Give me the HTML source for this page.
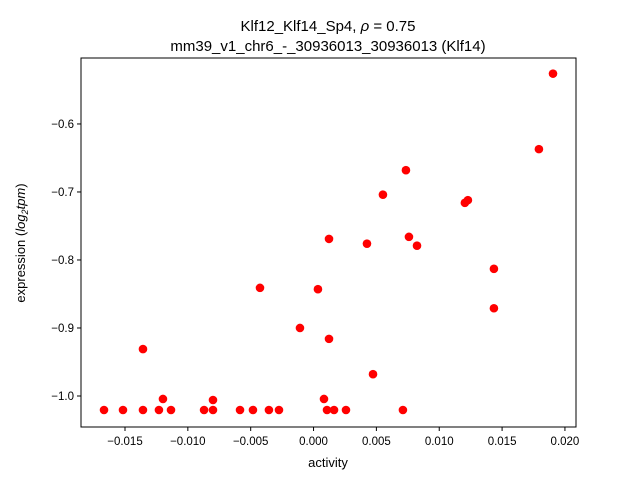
<!DOCTYPE html>
<html><head><meta charset="utf-8"><style>
body{margin:0;background:#fff;}
svg{font-family:"Liberation Sans","DejaVu Sans",sans-serif;}
</style></head><body>
<svg id="chart" width="640" height="480">
<rect width="640" height="480" fill="#fff"/>
<text x="328" y="31" text-anchor="middle" font-size="15">Klf12_Klf14_Sp4, <tspan font-style="italic">ρ</tspan> = 0.75</text>
<text x="328" y="51" text-anchor="middle" font-size="15">mm39_v1_chr6_-_30936013_30936013 (Klf14)</text>
<g id="plot"></g>
<text x="328" y="467" text-anchor="middle" font-size="13">activity</text>
<text transform="translate(25,243) rotate(-90)" text-anchor="middle" font-size="13">expression (<tspan font-style="italic">log</tspan><tspan font-size="9" dy="3" font-style="italic">2</tspan><tspan dy="-3" font-style="italic">tpm</tspan>)</text>
</svg>
<script>
const xs=[-0.01667,-0.01516,-0.01357,-0.01357,-0.0123,-0.01198,-0.01134,-0.00871,-0.0080,-0.0080,-0.00585,-0.00482,-0.00426,-0.00355,-0.00275,-0.00108,0.00035,0.00083,0.00107,0.00123,0.00123,0.00163,0.00258,0.00425,0.00473,0.00552,0.00711,0.00735,0.00759,0.00823,0.01204,0.01228,0.01435,0.01435,0.01793,0.01905];
const ys=[-1.0206,-1.0206,-1.0206,-0.931,-1.0206,-1.0044,-1.0206,-1.0206,-1.0059,-1.0206,-1.0206,-1.0206,-0.841,-1.0206,-1.0206,-0.900,-0.843,-1.0044,-1.0206,-0.769,-0.916,-1.0206,-1.0206,-0.776,-0.968,-0.704,-1.0206,-0.668,-0.766,-0.779,-0.716,-0.712,-0.813,-0.871,-0.637,-0.526];
const xTicks=[-0.015,-0.010,-0.005,0.000,0.005,0.010,0.015,0.020];
const xTickLabels=["−0.015","−0.010","−0.005","0.000","0.005","0.010","0.015","0.020"];
const yTicks=[-1.0,-0.9,-0.8,-0.7,-0.6];
const yTickLabels=["−1.0","−0.9","−0.8","−0.7","−0.6"];
const L=81,R=576,T=58,B=427,x0=-0.0185,x1=0.02088,y0=-1.0456,y1=-0.503;
const sx=v=>L+(v-x0)/(x1-x0)*(R-L);
const sy=v=>B-(v-y0)/(y1-y0)*(B-T);
const g=document.getElementById('plot');
const NS='http://www.w3.org/2000/svg';
function mk(t,a){const e=document.createElementNS(NS,t);for(const k in a)e.setAttribute(k,a[k]);g.appendChild(e);return e;}
xs.forEach((x,i)=>{const c=mk('circle',{cx:sx(x),cy:sy(ys[i]),r:4.3,fill:'#ff0000'});

});
const f=mk('rect',{x:L,y:T,width:R-L,height:B-T,fill:'none',stroke:'#000','stroke-width':1});


xTicks.forEach((v,i)=>{const x=sx(v);
const l=mk('line',{x1:x,x2:x,y1:B,y2:B+4,stroke:'#000'});


const t=mk('text',{x:x,y:B+18,'text-anchor':'middle','font-size':11.5});t.textContent=xTickLabels[i];

});
yTicks.forEach((v,i)=>{const y=sy(v);
const l=mk('line',{x1:L-4,x2:L,y1:y,y2:y,stroke:'#000'});


const t=mk('text',{x:L-7,y:y+4,'text-anchor':'end','font-size':11.5});t.textContent=yTickLabels[i];

});
</script>
</body></html>
